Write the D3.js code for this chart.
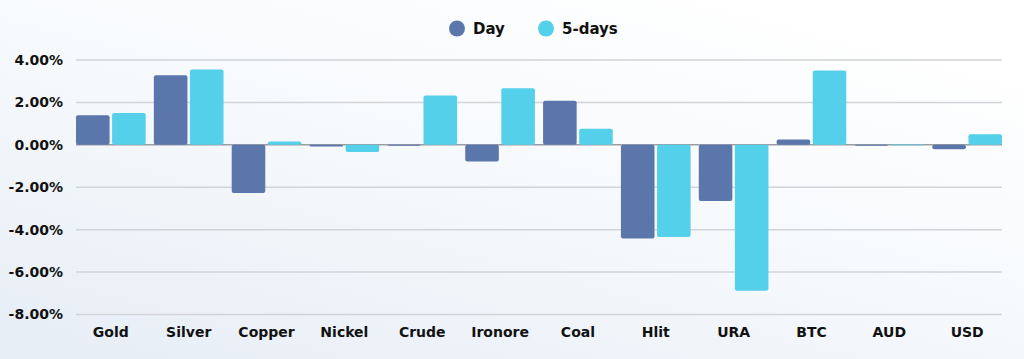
<!DOCTYPE html>
<html>
<head>
<meta charset="utf-8">
<script src="https://cdn.jsdelivr.net/npm/d3@7"></script>
<style>
  body { margin: 0; background: #fff; }
  svg { display: block; font-family: "DejaVu Sans", sans-serif; }
</style>
</head>
<body>
<svg width="1024" height="359"></svg>
<script>
  var categories = ["Gold", "Silver", "Copper", "Nickel", "Crude", "Ironore", "Coal", "Hlit", "URA", "BTC", "AUD", "USD"];
  var seriesNames = ["Day", "5-days"];
  var dayValues = [1.39, 3.28, -2.27, -0.08, -0.02, -0.78, 2.08, -4.42, -2.65, 0.25, -0.03, -0.21];
  var fiveDayValues = [1.5, 3.55, 0.16, -0.34, 2.33, 2.67, 0.76, -4.35, -6.88, 3.51, 0.02, 0.5];
  var yTicks = [4, 2, 0, -2, -4, -6, -8];
  var colors = ["#5a76ab", "#55d0ea"];

  var svg = d3.select("svg");
  var w = +svg.attr("width");
  var h = +svg.attr("height");

  // soft background
  var defs = svg.append("defs");
  var grad = defs.append("linearGradient").attr("id", "bg")
    .attr("x1", "0").attr("y1", "1").attr("x2", "0.75").attr("y2", "0");
  grad.append("stop").attr("offset", "0").attr("stop-color", "#e6edf5");
  grad.append("stop").attr("offset", "0.55").attr("stop-color", "#f6f9fc");
  grad.append("stop").attr("offset", "1").attr("stop-color", "#ffffff");
  svg.append("rect").attr("width", w).attr("height", h).attr("fill", "url(#bg)");

  var data = categories.map(function (c, i) {
    return { cat: c, values: [dayValues[i], fiveDayValues[i]] };
  });

  var x0 = d3.scaleBand().domain(categories).range([76, 1002]).paddingInner(0.105).paddingOuter(0);
  var x1 = d3.scaleBand().domain(seriesNames).range([0, x0.bandwidth()]).paddingInner(0.07);
  var y = d3.scaleLinear().domain([-8, 4]).range([314.5, 60]);

  // grid
  svg.append("g").selectAll("line").data(yTicks).join("line")
    .attr("x1", 76).attr("x2", 1002)
    .attr("y1", function (d) { return y(d); })
    .attr("y2", function (d) { return y(d); })
    .attr("stroke", function (d) { return d === 0 ? "#9a9ea3" : "#d2d4d7"; })
    .attr("stroke-width", 1.5);

  // y axis labels
  var yAxis = svg.append("g").attr("transform", "translate(76,0)")
    .call(d3.axisLeft(y).tickValues(yTicks).tickSize(0).tickPadding(13)
      .tickFormat(function (d) { return d3.format(".2f")(d) + "%"; }));
  yAxis.select(".domain").remove();
  yAxis.selectAll("text").attr("font-size", 14).attr("font-weight", 700)
    .attr("fill", "#111").attr("font-family", "\"DejaVu Sans\", sans-serif")
    .text(function (d) { return (d < 0 ? "-" : "") + d3.format(".2f")(Math.abs(d)) + "%"; });

  // bars
  var groups = svg.append("g").selectAll("g").data(data).join("g")
    .attr("transform", function (d) { return "translate(" + x0(d.cat) + ",0)"; });

  groups.selectAll("rect").data(function (d) {
    return d.values.map(function (v, i) { return { key: seriesNames[i], v: v, i: i }; });
  }).join("rect")
    .attr("x", function (d) { return x1(d.key); })
    .attr("width", x1.bandwidth())
    .attr("y", function (d) { return y(Math.max(0, d.v)); })
    .attr("height", function (d) { return Math.max(0.8, Math.abs(y(d.v) - y(0))); })
    .attr("rx", 2)
    .attr("fill", function (d) { return colors[d.i]; });

  // x labels
  var xAxis = svg.append("g").attr("transform", "translate(0,327)")
    .call(d3.axisBottom(x0).tickSize(0).tickPadding(0));
  xAxis.select(".domain").remove();
  xAxis.selectAll("text").attr("font-size", 14).attr("font-weight", 700)
    .attr("fill", "#111").attr("font-family", "\"DejaVu Sans\", sans-serif");

  // legend
  var legend = svg.append("g");
  var legendX = [457, 546];
  seriesNames.forEach(function (name, i) {
    legend.append("circle").attr("cx", legendX[i]).attr("cy", 28.5).attr("r", 8).attr("fill", colors[i]);
    legend.append("text").attr("x", legendX[i] + 16).attr("y", 28.5).attr("dy", "0.35em")
      .attr("font-size", 15).attr("font-weight", 700).attr("fill", "#111").text(name);
  });
</script>
</body>
</html>
